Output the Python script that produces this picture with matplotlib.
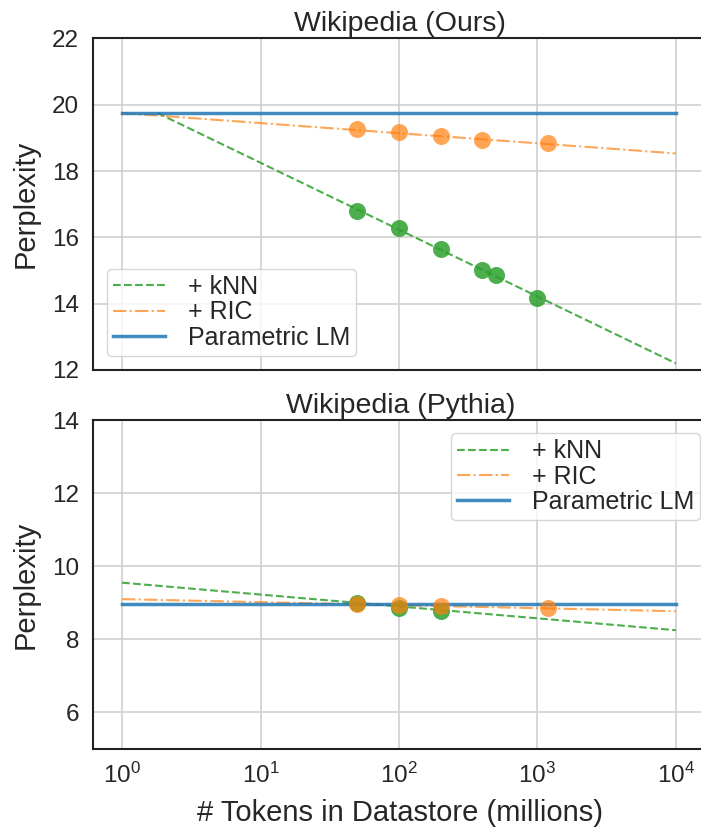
import numpy as np
import matplotlib
matplotlib.use("Agg")
import matplotlib.pyplot as plt

plt.rcParams['font.family'] = ['Liberation Sans', 'DejaVu Sans']
plt.rcParams['mathtext.default'] = 'regular'
plt.rcParams['text.color'] = '#262626'
plt.rcParams['axes.labelcolor'] = '#262626'
plt.rcParams['xtick.color'] = '#262626'
plt.rcParams['ytick.color'] = '#262626'

# datastore sizes (millions of tokens)
knn_x_ours = [50, 100, 200, 400, 500, 1000]
knn_y_ours = [16.8, 16.27, 15.65, 15.02, 14.85, 14.17]
ric_x_ours = [50, 100, 200, 400, 1200]
ric_y_ours = [19.27, 19.18, 19.07, 18.95, 18.84]
param_ours = 19.75
knn_fit_ours = ([1.8, 1e4], [19.75, 12.2])
ric_fit_ours = ([1, 1e4], [19.75, 18.53])

knn_x_py = [50, 100, 200]
knn_y_py = [8.99, 8.87, 8.77]
ric_x_py = [50, 100, 200, 1200]
ric_y_py = [8.97, 8.94, 8.92, 8.85]
param_py = 8.97
knn_fit_py = ([1, 1e4], [9.55, 8.25])
ric_fit_py = ([1, 1e4], [9.10, 8.77])

GREEN = '#2ca02c'
ORANGE = '#ff7f0e'
BLUE = '#1f77b4'

fig = plt.figure(figsize=(7.01, 8.34), dpi=100)
ax1 = fig.add_axes([0.1327, 0.5564, 0.877, 0.3976])
ax2 = fig.add_axes([0.1327, 0.1019, 0.877, 0.3945], sharex=ax1)


def draw(ax, knn_x, knn_y, ric_x, ric_y, param, knn_fit, ric_fit):
    ax.plot(knn_fit[0], knn_fit[1], '--', color=GREEN, alpha=0.85, lw=1.5, label='+ kNN')
    ax.plot(ric_fit[0], ric_fit[1], '-.', color=ORANGE, alpha=0.7, lw=1.5, label='+ RIC')
    ax.plot([1, 1e4], [param, param], '-', color=BLUE, alpha=0.85, lw=2.5, label='Parametric LM')
    ax.scatter(knn_x, knn_y, s=150, color=GREEN, alpha=0.85, zorder=3, linewidths=0)
    ax.scatter(ric_x, ric_y, s=150, color=ORANGE, alpha=0.7, zorder=4, linewidths=0)
    ax.set_xscale('log')
    ax.grid(True, color='#d0d0d0', lw=1.2)
    ax.set_axisbelow(True)
    for s in ax.spines.values():
        s.set_color('#222222')
        s.set_linewidth(1.5)
    ax.tick_params(which='both', length=0, labelsize=17.5, pad=10)
    ax.set_ylabel('Perplexity', fontsize=21, labelpad=9)


draw(ax1, knn_x_ours, knn_y_ours, ric_x_ours, ric_y_ours, param_ours, knn_fit_ours, ric_fit_ours)
draw(ax2, knn_x_py, knn_y_py, ric_x_py, ric_y_py, param_py, knn_fit_py, ric_fit_py)

ax1.set_xlim(0.617, 1.7e4)
ax1.set_ylim(12, 22)
ax1.set_yticks([12, 14, 16, 18, 20, 22])
ax2.set_ylim(5, 14)
ax2.set_yticks([6, 8, 10, 12, 14])
ax1.tick_params(labelbottom=False)
ax2.set_xticks([1, 10, 100, 1000, 10000])
ax2.minorticks_off()

ax1.set_title('Wikipedia (Ours)', fontsize=20.5, pad=5)
ax2.set_title('Wikipedia (Pythia)', fontsize=20.5, pad=5)
ax2.set_xlabel('# Tokens in Datastore (millions)', fontsize=21, labelpad=8)

leg_kw = dict(fontsize=18, handlelength=2.1, handletextpad=0.9, labelspacing=0.05,
              borderpad=0.25, borderaxespad=0.3, framealpha=0.8, edgecolor='#cccccc')
ax1.legend(loc='lower left', bbox_to_anchor=(0.01, 0.02), **leg_kw)
ax2.legend(loc='upper right', bbox_to_anchor=(1.0, 0.983), **leg_kw)

fig.savefig('out.png', dpi=100)
